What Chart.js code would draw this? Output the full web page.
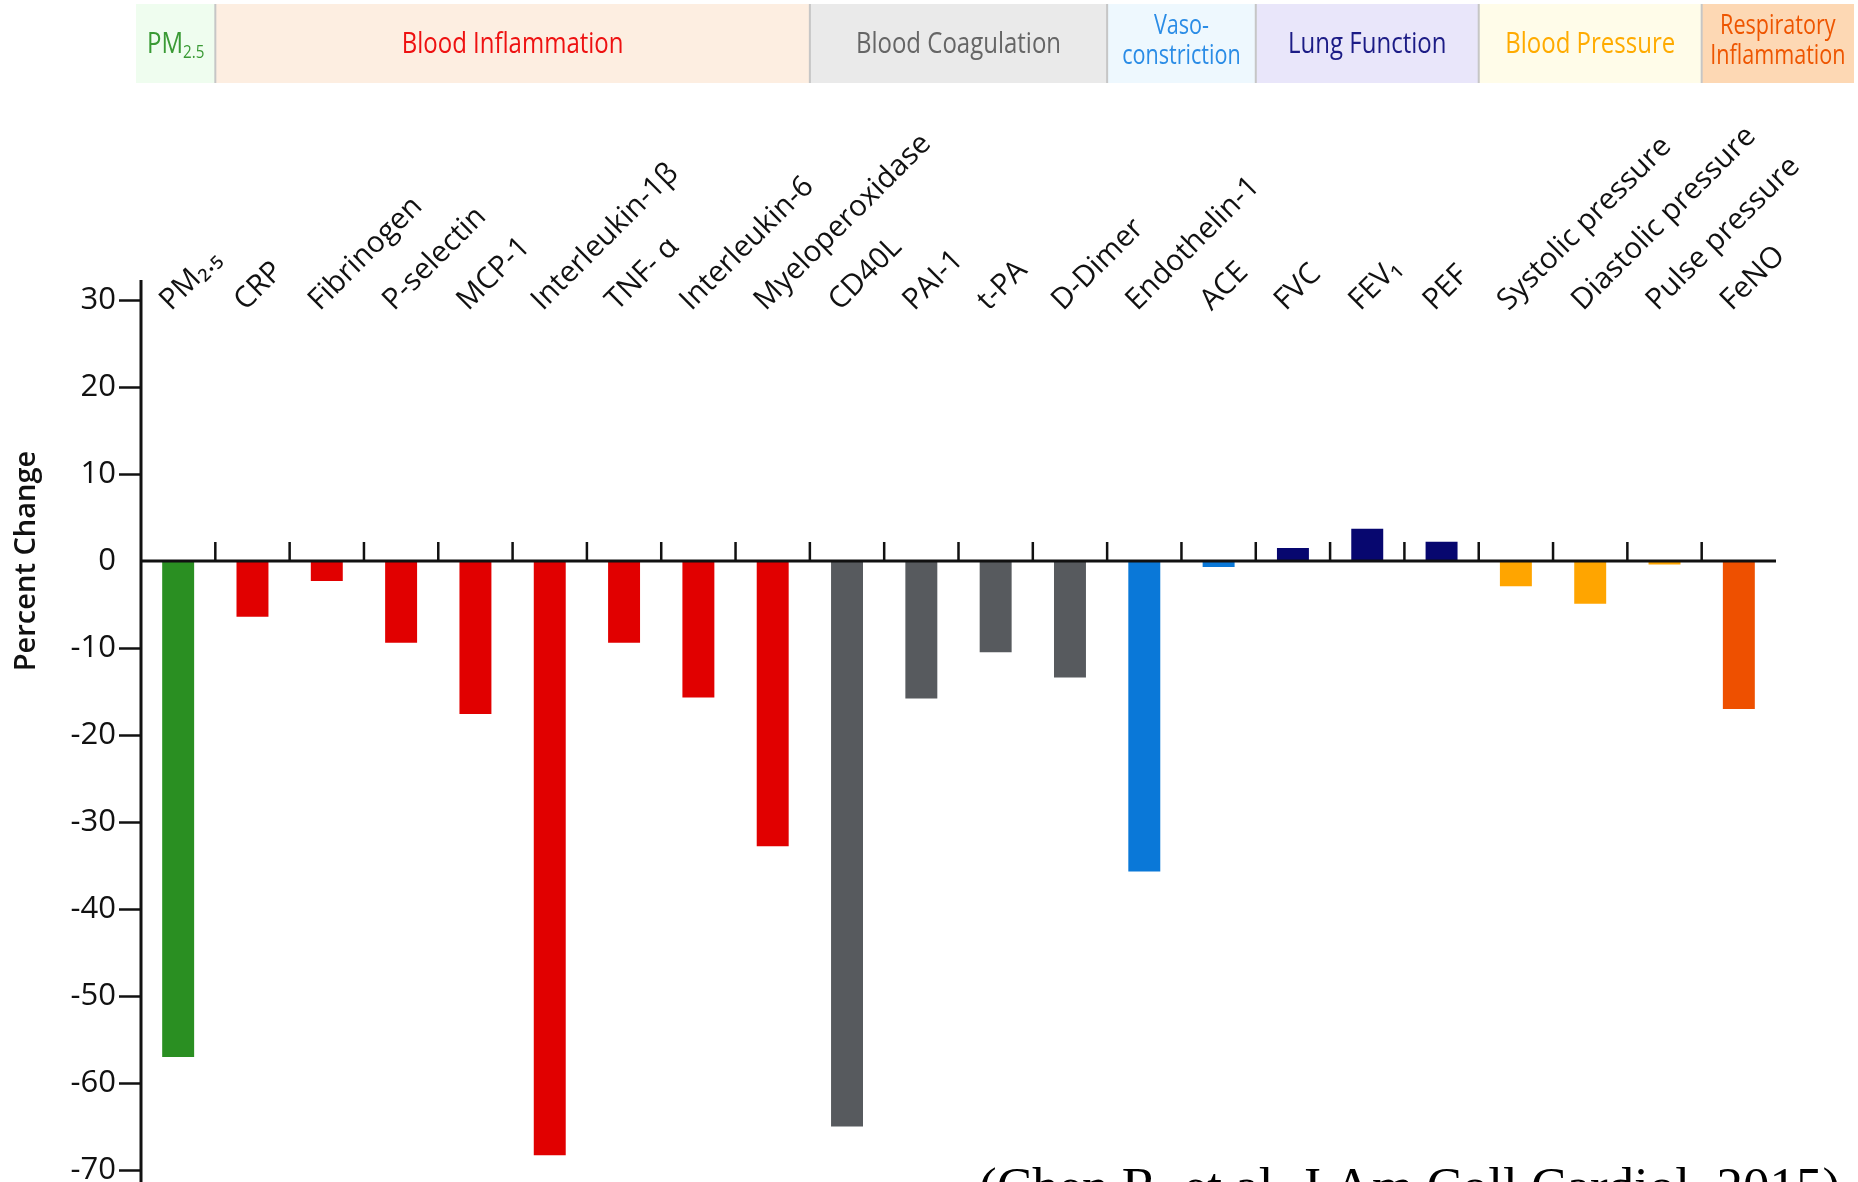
<!doctype html>
<html>
<head>
<title>Percent Change by marker</title>
<script src="https://cdn.jsdelivr.net/npm/chart.js@4.4.1/dist/chart.umd.min.js"></script>
<style>
	body { margin: 0; background: #fff; }
	canvas { display: block; }
</style>
</head>
<body>
<canvas id="canvas" width="1858" height="1182"></canvas>
<script>
	// markers in plot order
	var markers = ['PM₂.₅', 'CRP', 'Fibrinogen', 'P-selectin', 'MCP-1', 'Interleukin-1β', 'TNF- α',
		'Interleukin-6', 'Myeloperoxidase', 'CD40L', 'PAI-1', 't-PA', 'D-Dimer', 'Endothelin-1', 'ACE',
		'FVC', 'FEV₁', 'PEF', 'Systolic pressure', 'Diastolic pressure', 'Pulse pressure', 'FeNO'];
	// percent change for each marker
	var changes = [-57.0, -6.4, -2.3, -9.4, -17.6, -68.3, -9.4, -15.7, -32.8, -65.0, -15.8,
		-10.5, -13.4, -35.7, -0.7, 1.5, 3.7, 2.2, -2.9, -4.9, -0.4, -17.0];
	// group index of each marker
	var groupOf = [0, 1, 1, 1, 1, 1, 1, 1, 1, 2, 2, 2, 2, 3, 3, 4, 4, 4, 5, 5, 5, 6];
	// group titles ("\n" = new line, "_" = subscript follows)
	var groupTitles = ['PM_2.5', 'Blood Inflammation', 'Blood Coagulation', 'Vaso-\nconstriction',
		'Lung Function', 'Blood Pressure', 'Respiratory\nInflammation'];
	var yTicks = { min: -70, max: 30, step: 10 };
	var yTitle = 'Percent Change';
	var citation = '(Chen R, et al. J Am Coll Cardiol. 2015)';

	// colours per group
	var barColors = ['#2a8f22', '#e10000', '#575a5e', '#0a78d8', '#07076f', '#ffa500', '#ee5000'];
	var bandFill = ['#effdef', '#fdeee1', '#eaeaea', '#eef8fe', '#e9e6fa', '#fffce9', '#fdd8b4'];
	var bandText = ['#3a9a35', '#ee1111', '#666666', '#2a8ce6', '#1c1c86', '#ffab00', '#ee5500'];

	var FONT = '"Open Sans", "Noto Sans", sans-serif';

	function narrowText(ctx, str, cx, cy, size) {
		var parts = str.split('_');
		ctx.save();
		ctx.translate(cx, cy);
		ctx.scale(0.8, 1);
		ctx.textBaseline = 'middle';
		ctx.font = size + 'px ' + FONT;
		if (parts.length === 1) {
			ctx.textAlign = 'center';
			ctx.fillText(str, 0, 0);
		} else {
			var subSize = Math.round(size * 0.62);
			var w1 = ctx.measureText(parts[0]).width;
			ctx.font = subSize + 'px ' + FONT;
			var w2 = ctx.measureText(parts[1]).width;
			var left = -(w1 + w2) / 2;
			ctx.textAlign = 'left';
			ctx.font = size + 'px ' + FONT;
			ctx.fillText(parts[0], left, 0);
			ctx.font = subSize + 'px ' + FONT;
			ctx.fillText(parts[1], left + w1, size * 0.3);
		}
		ctx.restore();
	}

	// coloured header bands above the category labels
	var groupBands = {
		id: 'groupBands',
		afterLayout: function (chart) {
			// let the slanted labels dip a little below the top of the plot
			chart.scales.x.bottom += 14;
		},
		beforeDraw: function (chart) {
			var ctx = chart.ctx, x = chart.scales.x, area = chart.chartArea;
			var half = (x.getPixelForValue(1) - x.getPixelForValue(0)) / 2;
			var top = 4, h = 79;
			groupTitles.forEach(function (title, g) {
				var first = groupOf.indexOf(g), last = groupOf.lastIndexOf(g);
				var x0 = x.getPixelForValue(first) - half;
				var x1 = x.getPixelForValue(last) + half;
				if (first === 0) x0 = area.left - 5;
				if (last === markers.length - 1) x1 = chart.width - 4;
				ctx.fillStyle = bandFill[g];
				ctx.fillRect(x0, top, x1 - x0, h);
				if (g > 0) {
					ctx.fillStyle = '#c6c6c6';
					ctx.fillRect(x0 - 1, top, 2, h);
				}
				ctx.fillStyle = bandText[g];
				var lines = title.split('\n');
				var cx = (x0 + x1) / 2;
				if (lines.length === 1) {
					narrowText(ctx, lines[0], cx, top + 40, 30);
				} else {
					narrowText(ctx, lines[0], cx, top + 22, 27);
					narrowText(ctx, lines[1], cx, top + 52, 27);
				}
			});
		}
	};

	// axis lines: y axis, zero line with category ticks, y title, citation
	var axisLines = {
		id: 'axisLines',
		afterDatasetsDraw: function (chart) {
			var ctx = chart.ctx, x = chart.scales.x, y = chart.scales.y, area = chart.chartArea;
			var y0 = y.getPixelForValue(0);
			ctx.save();
			ctx.strokeStyle = '#111';
			ctx.lineWidth = 3;
			ctx.beginPath();
			ctx.moveTo(area.left, area.top - 20);
			ctx.lineTo(area.left, chart.height);
			ctx.moveTo(area.left, y0);
			ctx.lineTo(area.right, y0);
			ctx.stroke();
			ctx.lineWidth = 2.5;
			ctx.beginPath();
			for (var i = 1; i < markers.length; i++) {
				var bx = (x.getPixelForValue(i - 1) + x.getPixelForValue(i)) / 2;
				ctx.moveTo(bx, y0);
				ctx.lineTo(bx, y0 - 19);
			}
			ctx.stroke();

			ctx.translate(27, y0);
			ctx.rotate(-Math.PI / 2);
			ctx.fillStyle = '#111';
			ctx.font = '600 29px ' + FONT;
			ctx.textAlign = 'center';
			ctx.textBaseline = 'middle';
			ctx.fillText(yTitle, 0, 0);
			ctx.restore();
		},
		afterDraw: function (chart) {
			var ctx = chart.ctx;
			ctx.save();
			ctx.fillStyle = '#000';
			ctx.font = '53px "Liberation Serif", "Times New Roman", serif';
			ctx.textAlign = 'left';
			ctx.textBaseline = 'alphabetic';
			ctx.fillText(citation, 979, chart.height + 22);
			ctx.restore();
		}
	};

	var ctx = document.getElementById('canvas').getContext('2d');
	window.myBar = new Chart(ctx, {
		type: 'bar',
		data: {
			labels: markers,
			datasets: [{
				data: changes,
				backgroundColor: markers.map(function (m, i) { return barColors[groupOf[i]]; }),
				barPercentage: 0.43,
				categoryPercentage: 1
			}]
		},
		options: {
			responsive: false,
			animation: false,
			devicePixelRatio: 1,
			layout: { padding: { left: 0, right: 82, top: 0, bottom: 12 } },
			plugins: {
				legend: { display: false },
				tooltip: { enabled: false }
			},
			scales: {
				x: {
					position: 'top',
					offset: true,
					grid: { display: false, drawTicks: false },
					border: { display: false },
					ticks: {
						autoSkip: false,
						maxRotation: 45,
						minRotation: 45,
						padding: -4,
						labelOffset: 12,
						color: '#111',
						font: { family: FONT, size: 29.5 }
					},
					afterFit: function (scale) {
						scale.height = 300;
						scale.paddingLeft = 0;
						scale.paddingRight = 0;
					}
				},
				y: {
					min: yTicks.min,
					max: yTicks.max,
					ticks: {
						stepSize: yTicks.step,
						padding: 3,
						color: '#111',
						font: { family: FONT, size: 31 }
					},
					grid: {
						drawOnChartArea: false,
						drawTicks: true,
						tickLength: 22,
						tickWidth: 2.5,
						tickColor: function (c) { return c.tick && c.tick.value === 0 ? 'rgba(0,0,0,0)' : '#111'; }
					},
					border: { display: false },
					afterFit: function (scale) {
						scale.width = 141;
						scale.paddingTop = 0;
						scale.paddingBottom = 0;
					}
				}
			}
		},
		plugins: [groupBands, axisLines]
	});
</script>
</body>
</html>
